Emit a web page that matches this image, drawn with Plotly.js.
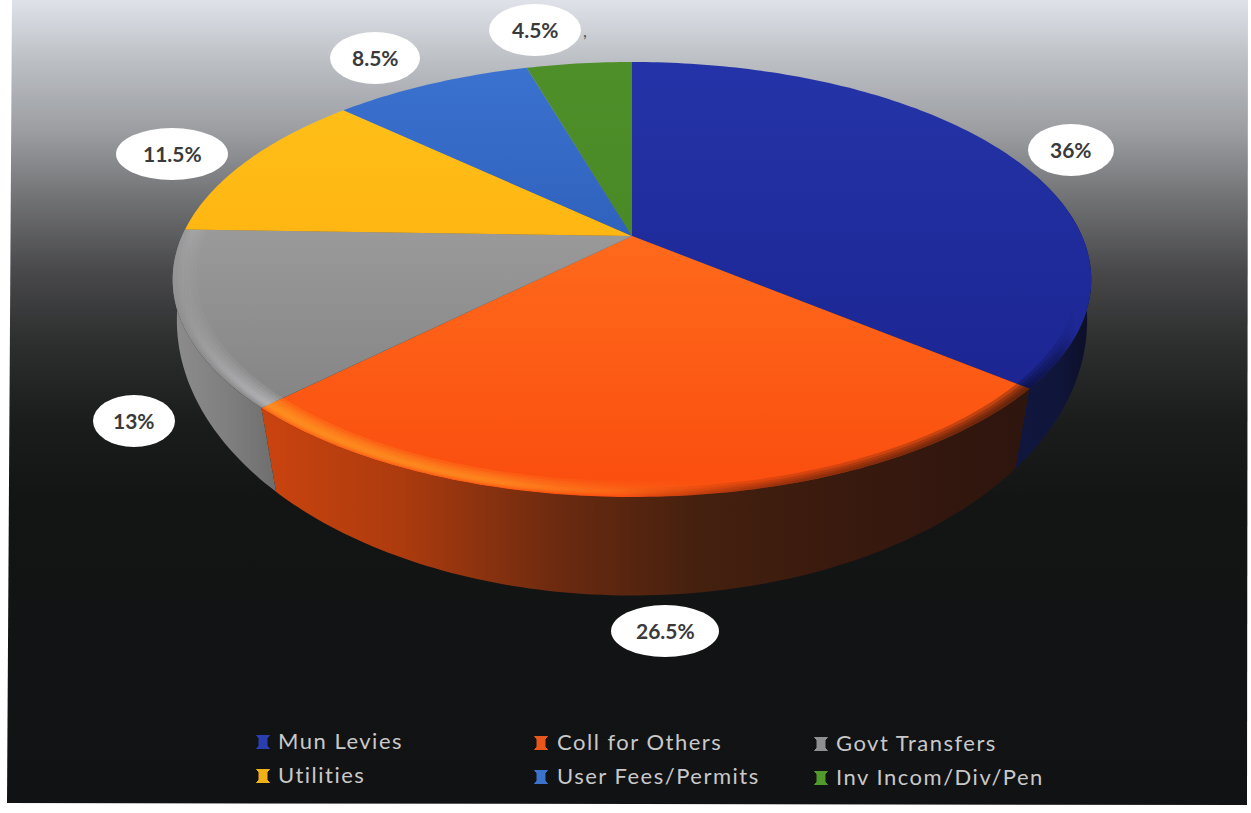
<!DOCTYPE html>
<html>
<head>
<meta charset="utf-8">
<script src="https://cdn.plot.ly/plotly-3.0.1.min.js"></script>
<style>
html,body{margin:0;padding:0;background:#fff}
#chart{width:1251px;height:813px}
/* Legend names are set with open tracking */
#chart .textpoint text{letter-spacing:1.5px}
</style>
</head>
<body>
<div id="chart"></div>
<script>
// Revenue shares, clockwise from twelve o'clock
const categories = ['Mun Levies', 'Coll for Others', 'Govt Transfers', 'Utilities', 'User Fees/Permits', 'Inv Incom/Div/Pen'];
const shares = [36, 26.5, 13, 11.5, 8.5, 4.5];
const legendColors = ['#2a3eb0', '#e8561c', '#8f8f8f', '#f0b018', '#3a72cc', '#4f9a2a'];

// Top-face shading per slice: [colour at the upper edge, colour at the lower edge]
const topColors = [
  ['#2434a8', '#1c2592'],
  ['#ff6a1c', '#fa4d0e'],
  ['#9a9a9a', '#848484'],
  ['#ffbe18', '#ffb612'],
  ['#3b72cf', '#2f62bd'],
  ['#4f8f2a', '#4a8a26']
];

// Perspective disc: unit circle -> plot coordinates (plot units equal pixels)
const topFace = {cx: 632, cy: 236, a: 450, b: 208.8, k: 0.2};
const baseFace = {cx: 632, cy: 279, a: 450, b: 269, k: 0.15};

function project(face, deg, r) {
  const t = deg * Math.PI / 180;
  const u = r * Math.sin(t), v = r * Math.cos(t);
  const w = 1 + face.k * v;
  return [face.cx + face.a * u / w, face.cy - face.b * v / w];
}
function arc(face, a0, a1, r) {
  const n = Math.max(8, Math.ceil(Math.abs(a1 - a0)));
  const pts = [];
  for (let i = 0; i <= n; i++) pts.push(project(face, a0 + (a1 - a0) * i / n, r));
  return pts;
}
function polygon(points, gradient) {
  return {
    type: 'scatter', mode: 'none', hoverinfo: 'skip', showlegend: false,
    x: points.map(p => p[0]), y: points.map(p => p[1]),
    fill: 'toself', fillgradient: gradient, fillcolor: 'rgba(0,0,0,0)'
  };
}
function scale(stops, lo, hi) {
  return stops.map(s => [(s[0] - lo) / (hi - lo), s[1]]);
}

// Slice boundaries in degrees
const total = shares.reduce((a, b) => a + b, 0);
const bounds = [0];
shares.forEach(s => bounds.push(bounds[bounds.length - 1] + s / total * 360));

const traces = [];

// Backdrop panel, pale at the top and falling to near black
const bgStops = [[0,'#dfe2e8'],[60,'#bcbfc4'],[130,'#9c9ea2'],[200,'#707173'],[270,'#49494b'],[340,'#2e2f2f'],[420,'#1b1c1c'],[500,'#131414'],[805,'#111213']];
traces.push(polygon([[12,0],[1248,0],[1247,805],[7,803],[12,0]],
  {type: 'vertical', start: 0, stop: 805, colorscale: scale(bgStops, 0, 805)}));

// Wall of the disc, only the slices facing the viewer
const walls = [
  {i: 0, from: 72, x0: 1010, x1: 1090, stops: [[1010,'#10163f'],[1060,'#10153a'],[1090,'#0c0f26']]},
  {i: 1, x0: 268, x1: 1022, stops: [[268,'#c9430f'],[400,'#ad3b0e'],[560,'#6b2a10'],[700,'#44200f'],[860,'#38190e'],[1022,'#2e150e']]},
  {i: 2, x0: 175, x1: 276, stops: [[175,'#8c8c8c'],[230,'#7e7e7e'],[276,'#6e6e6e']]}
];
walls.forEach(w => {
  const a0 = w.from !== undefined ? w.from : bounds[w.i];
  const a1 = bounds[w.i + 1];
  const pts = arc(topFace, a0, a1, 1).concat(arc(baseFace, a1, a0, 1));
  pts.push(pts[0]);
  traces.push(polygon(pts, {type: 'horizontal', start: w.x0, stop: w.x1, colorscale: scale(w.stops, w.x0, w.x1)}));
});

// Top face
shares.forEach((s, i) => {
  const pts = [[topFace.cx, topFace.cy]].concat(arc(topFace, bounds[i], bounds[i + 1], 1));
  pts.push([topFace.cx, topFace.cy]);
  const ys = pts.map(p => p[1]);
  traces.push(polygon(pts, {
    type: 'vertical', start: Math.min(...ys), stop: Math.max(...ys),
    colorscale: [[0, topColors[i][0]], [1, topColors[i][1]]]
  }));
});

// Bevel along the rim: thin stacked bands build up a soft falloff
function softRim(a0, a1, bands, x0, x1, stops) {
  bands.forEach(b => {
    const pts = arc(topFace, a0, a1, b[1]).concat(arc(topFace, a1, a0, b[0]));
    pts.push(pts[0]);
    traces.push(polygon(pts, {type: 'horizontal', start: x0, stop: x1, colorscale: scale(stops, x0, x1)}));
  });
}
const glowBands = [[0.95, 0.999], [0.958, 0.996], [0.965, 0.993], [0.972, 0.99], [0.977, 0.987]];
const shadeBands = [[0.972, 1], [0.98, 1], [0.987, 1], [0.993, 1]];
const a1 = bounds[1], a2 = bounds[2], a3 = bounds[3];
softRim(a1, a2, glowBands, 268, 1022, [[268,'rgba(255,155,35,0.26)'],[500,'rgba(255,150,35,0.22)'],[640,'rgba(255,120,30,0.1)'],[760,'rgba(255,90,20,0)'],[1022,'rgba(255,80,20,0)']]);
softRim(a1, a2, shadeBands, 268, 1022, [[268,'rgba(90,30,10,0)'],[620,'rgba(90,30,10,0)'],[800,'rgba(90,30,10,0.22)'],[1022,'rgba(70,25,10,0.35)']]);
softRim(a2, a3, glowBands, 172, 276, [[172,'rgba(205,205,210,0)'],[200,'rgba(205,205,210,0.05)'],[276,'rgba(205,205,210,0.17)']]);
softRim(100, a1, shadeBands, 1025, 1075, [[1025,'rgba(10,15,60,0.35)'],[1055,'rgba(10,15,60,0.2)'],[1075,'rgba(10,15,60,0)']]);

// Legend swatches and names, three columns by two rows
const swatchX = [263, 541, 821, 263, 541, 821];
const nameX = [278, 557, 836, 278, 557, 836];
const legendY = [742, 743, 744, 776, 777, 778];
categories.forEach((name, i) => {
  traces.push({
    type: 'scatter', mode: 'markers', hoverinfo: 'skip', showlegend: false,
    x: [swatchX[i]], y: [legendY[i]],
    marker: {symbol: 'square', size: 9, color: legendColors[i]}
  });
  traces.push({
    type: 'scatter', mode: 'markers', hoverinfo: 'skip', showlegend: false,
    x: [swatchX[i]], y: [legendY[i]],
    marker: {symbol: 'hourglass', size: 13, color: legendColors[i], line: {color: legendColors[i], width: 1}}
  });
  traces.push({
    type: 'scatter', mode: 'text', hoverinfo: 'skip', showlegend: false,
    x: [nameX[i]], y: [legendY[i] + 1], text: [name], textposition: 'middle right',
    textfont: {family: 'Lato, sans-serif', size: 22, color: '#c9c9c9'}
  });
});

// Value bubbles
const bubbleX = [1071, 665, 134, 172, 375, 535];
const bubbleY = [150, 631, 421, 154, 58, 30];
const bubbleRx = [43, 54, 41, 56, 45, 46];
const bubbleRy = 26;
const shapes = shares.map((s, i) => ({
  type: 'circle', xref: 'x', yref: 'y', layer: 'above',
  x0: bubbleX[i] - bubbleRx[i], x1: bubbleX[i] + bubbleRx[i],
  y0: bubbleY[i] - bubbleRy, y1: bubbleY[i] + bubbleRy,
  fillcolor: '#ffffff', line: {width: 0}
}));
const annotations = shares.map((s, i) => ({
  xref: 'x', yref: 'y', x: bubbleX[i], y: bubbleY[i] - 1, text: s + '%', showarrow: false,
  font: {family: 'Lato, sans-serif', size: 21, color: '#3a3a3a', weight: 700}
}));
annotations.push({
  xref: 'x', yref: 'y', x: 585, y: 30, text: ',', showarrow: false,
  font: {family: 'Lato, sans-serif', size: 17, color: '#555555'}
});

Plotly.newPlot('chart', traces, {
  width: 1251, height: 813,
  margin: {l: 0, r: 0, t: 0, b: 0},
  paper_bgcolor: '#ffffff', plot_bgcolor: '#ffffff',
  showlegend: false, hovermode: false,
  xaxis: {range: [0, 1251], visible: false, fixedrange: true},
  yaxis: {range: [813, 0], visible: false, fixedrange: true},
  shapes, annotations
}, {displayModeBar: false, staticPlot: true});
</script>
</body>
</html>
